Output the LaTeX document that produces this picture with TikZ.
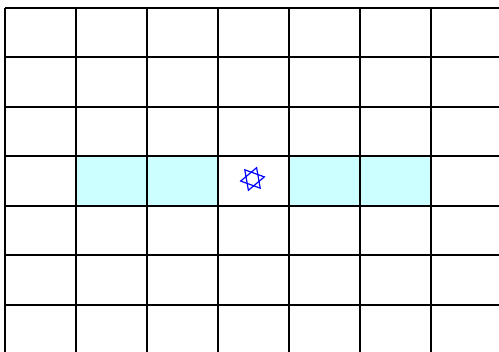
\documentclass[tikz,border=0pt]{standalone}
\usetikzlibrary{calc}
\begin{document}
\begin{tikzpicture}[x=1pt,y=1pt,
  gridline/.style={line width=2pt,black},
  hl/.style={fill={rgb,255:red,204;green,255;blue,255}},
  starline/.style={draw={rgb,255:red,0;green,0;blue,255},line width=1.2pt,line join=miter}]
\useasboundingbox (0,0) rectangle (499,352);
\fill[hl] (76,146) rectangle (218,195.5);
\fill[hl] (289,146) rectangle (431,195.5);
\foreach \x in {5,76,147,218,289,360,431} \draw[gridline] (\x,0) -- (\x,344);
\foreach \y in {344,294.5,245,195.5,146,96.5,47} \draw[gridline] (5,\y) -- (499,\y);
\coordinate (c) at (252.5,173);
\draw[starline] ($(c)+(70:12)$) -- ($(c)+(190:12)$) -- ($(c)+(310:12)$) -- cycle;
\draw[starline] ($(c)+(250:12)$) -- ($(c)+(10:12)$) -- ($(c)+(130:12)$) -- cycle;
\end{tikzpicture}
\end{document}
